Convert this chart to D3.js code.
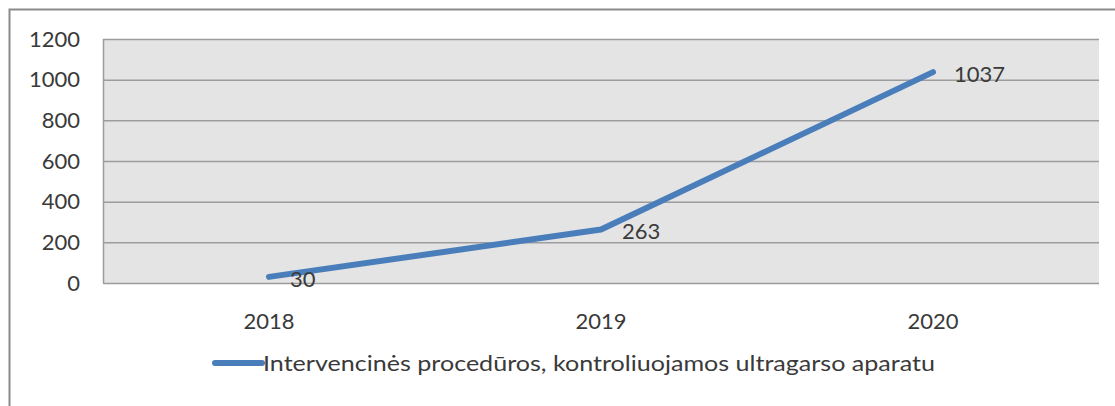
<!DOCTYPE html>
<html>
<head>
<meta charset="utf-8">
<script src="https://cdn.jsdelivr.net/npm/d3@7.9.0/dist/d3.min.js"></script>
<style>
  body { margin: 0; background: #fff; }
  svg text { font-family: Lato, "Open Sans", sans-serif; fill: #3a3a3a; }
</style>
</head>
<body>
<svg width="1115" height="406"></svg>
<script>
const years = ['2018', '2019', '2020'];
const values = [30, 263, 1037];
const yTicks = [0, 200, 400, 600, 800, 1000, 1200];
const seriesName = 'Intervencinės procedūros, kontroliuojamos ultragarso aparatu';

const svg = d3.select('svg');
const plot = { left: 103, right: 1099, top: 39, bottom: 283 };

// outer frame (runs off the bottom/right edge)
svg.append('rect')
  .attr('x', 9.5).attr('y', 9.5)
  .attr('width', 1200).attr('height', 500)
  .attr('fill', 'none').attr('stroke', '#8a8a8a').attr('stroke-width', 2);

let x = d3.scaleBand().domain(years).range([plot.left, plot.right]);
let y = d3.scaleLinear().domain([0, 1200]).range([plot.bottom, plot.top]);

svg.append('rect')
  .attr('x', plot.left).attr('y', plot.top)
  .attr('width', plot.right - plot.left).attr('height', plot.bottom - plot.top)
  .attr('fill', '#e4e4e4');

// gridlines
svg.append('g').selectAll('line').data(yTicks).join('line')
  .attr('x1', plot.left).attr('x2', plot.right)
  .attr('y1', d => y(d) + 0.5).attr('y2', d => y(d) + 0.5)
  .attr('stroke', '#9c9c9c').attr('stroke-width', 1.5);

svg.append('line')
  .attr('x1', plot.left + 0.5).attr('x2', plot.left + 0.5)
  .attr('y1', plot.top).attr('y2', plot.bottom)
  .attr('stroke', '#9c9c9c').attr('stroke-width', 1.5);

// y labels
svg.append('g').selectAll('text').data(yTicks).join('text')
  .attr('x', 80).attr('y', d => y(d))
  .attr('dy', '0.35em')
  .attr('text-anchor', 'end')
  .attr('font-size', 22)
  .text(d => d);

// x labels
svg.append('g').selectAll('text').data(years).join('text')
  .attr('x', d => x(d) + x.bandwidth() / 2).attr('y', 321)
  .attr('dy', '0.35em')
  .attr('text-anchor', 'middle')
  .attr('font-size', 22)
  .text(d => d);

let line = d3.line()
  .x((d, i) => x(years[i]) + x.bandwidth() / 2)
  .y(d => y(d));

svg.append('path')
  .datum(values)
  .attr('d', line)
  .attr('fill', 'none')
  .attr('stroke', '#4a7ebb')
  .attr('stroke-width', 6)
  .attr('stroke-linecap', 'round')
  .attr('stroke-linejoin', 'round');

// data labels
svg.append('g').selectAll('text').data(values).join('text')
  .attr('x', (d, i) => x(years[i]) + x.bandwidth() / 2 + 21)
  .attr('y', d => y(d) + 2)
  .attr('dy', '0.35em')
  .attr('font-size', 22)
  .text(d => d);

// legend
svg.append('line')
  .attr('x1', 215).attr('x2', 262)
  .attr('y1', 363).attr('y2', 363)
  .attr('stroke', '#4a7ebb').attr('stroke-width', 6)
  .attr('stroke-linecap', 'round');

svg.append('text')
  .attr('x', 263).attr('y', 363)
  .attr('dy', '0.35em')
  .attr('font-size', 22)
  .attr('textLength', 672)
  .attr('lengthAdjust', 'spacingAndGlyphs')
  .text(seriesName);
</script>
</body>
</html>
